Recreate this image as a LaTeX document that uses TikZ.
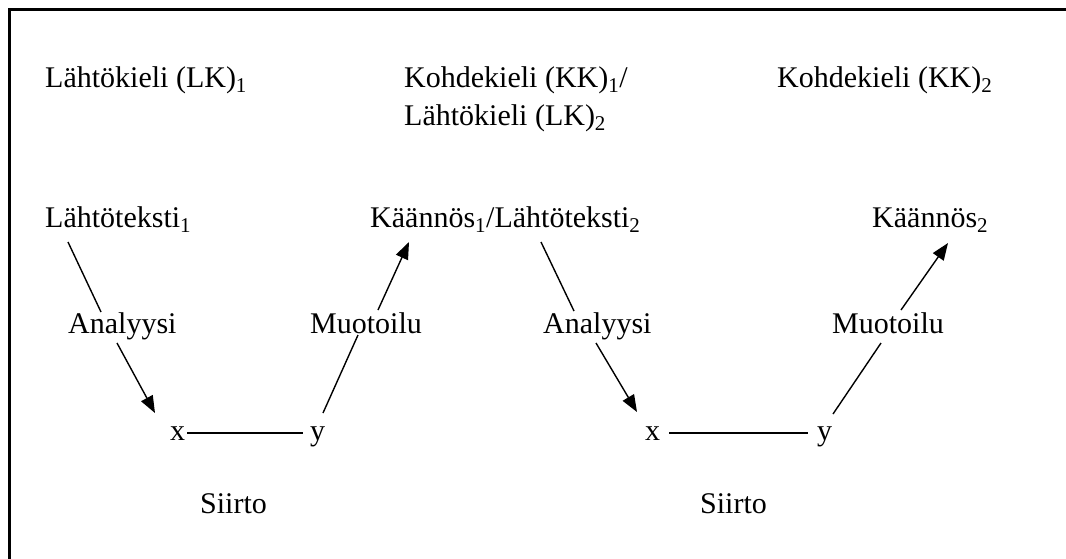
\documentclass[tikz,border=0pt]{standalone}
\usepackage{fontspec}
\setmainfont{Liberation Serif}
\usetikzlibrary{arrows.meta}
\begin{document}
\begin{tikzpicture}[x=1pt,y=-1pt,>={Triangle[length=17pt,width=13pt]},
                font=\fontsize{30}{36}\selectfont,
                lbl/.style={inner sep=0pt,anchor=base west},
                ln/.style={line width=1.4pt}]
                \useasboundingbox (0,0) rectangle (1066,558);
                \clip (0,0) rectangle (1066,558);
                \draw[line width=2.5pt] (9.5,9.5) rectangle (1100,600);
                %===========================================
                \node[lbl] (lk1) at (45,87) {Lähtökieli (LK)\textsubscript{1}};
                \node[lbl] (kk1) at (404,87) {Kohdekieli (KK)\textsubscript{1}/};
                \node[lbl] (lk2) at (404,125) {Lähtökieli (LK)\textsubscript{2}};
                \node[lbl] (kk2) at (777,87) {Kohdekieli (KK)\textsubscript{2}};
                \node[lbl] (lt1) at (45,227) {Lähtöteksti\textsubscript{1}};
                \node[lbl] (kl) at (370,227) {Käännös\textsubscript{1}/Lähtöteksti\textsubscript{2}};
                \node[lbl] (kn2) at (872,227) {Käännös\textsubscript{2}};
                \node[lbl] (an1) at (68,333) {Analyysi};
                \node[lbl] (mu1) at (310,333) {Muotoilu};
                \node[lbl] (an2) at (543,333) {Analyysi};
                \node[lbl] (mu2) at (832,333) {Muotoilu};
                \node[lbl] (x1) at (170,440) {x};
                \node[lbl] (y1) at (310,440) {y};
                \node[lbl] (x2) at (645,440) {x};
                \node[lbl] (y2) at (817,440) {y};
                \node[lbl] (si1) at (200,513) {Siirto};
                \node[lbl] (si2) at (700,513) {Siirto};
                %===========================================
                \draw[ln] ([shift={(23,15)}]lt1.base west) -- ([shift={(33,-21)}]an1.base west);
                \draw[ln,->] ([shift={(49,10)}]an1.base west) -- ([shift={(-15,-27)}]x1.base west);
                \draw[ln] ([xshift=2pt]x1.east) -- ([xshift=-7pt]x1.east -| y1.west);
                \draw[ln] ([shift={(13,-27)}]y1.base west) -- ([shift={(48,2)}]mu1.base west);
                \draw[ln,->] ([shift={(68,-23)}]mu1.base west) -- ([shift={(39,15)}]kl.base west);
                \draw[ln] ([shift={(171,15)}]kl.base west) -- ([shift={(31,-22)}]an2.base west);
                \draw[ln,->] ([shift={(53,10)}]an2.base west) -- ([shift={(-8,-28)}]x2.base west);
                \draw[ln] ([xshift=9pt]x2.east) -- ([xshift=-9pt]x2.east -| y2.west);
                \draw[ln] ([shift={(16,-26)}]y2.base west) -- ([shift={(49,10)}]mu2.base west);
                \draw[ln,->] ([shift={(69,-23)}]mu2.base west) -- ([shift={(76,16)}]kn2.base west);
        \end{tikzpicture}
\end{document}
